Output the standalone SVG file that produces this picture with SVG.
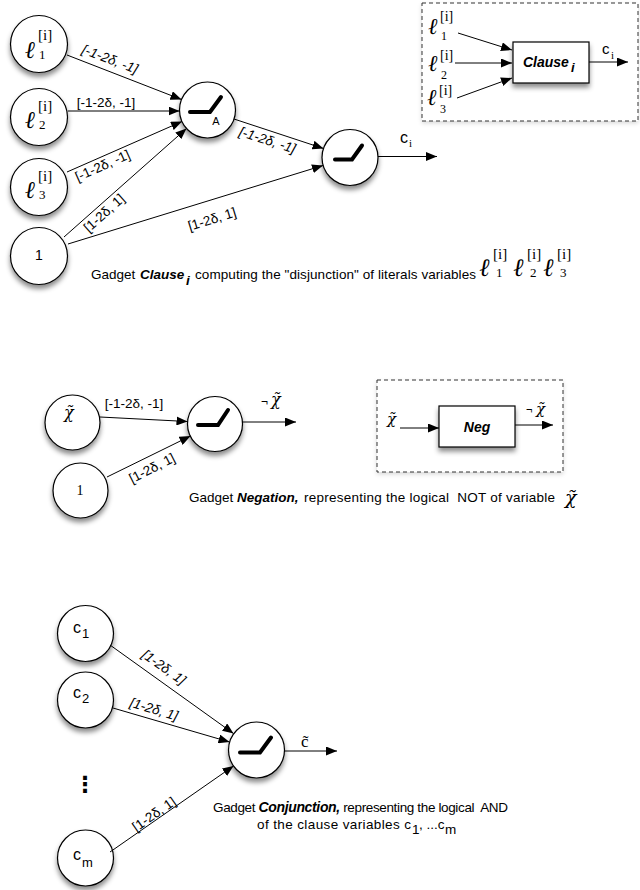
<svg xmlns="http://www.w3.org/2000/svg" width="640" height="890" viewBox="0 0 640 890">
<defs>
  <marker id="arr" markerUnits="userSpaceOnUse" markerWidth="11" markerHeight="9" refX="11" refY="4.5" orient="auto">
    <path d="M0,0 L11,4.5 L0,9 z" fill="#000"/>
  </marker>
  <filter id="sh" x="-30%" y="-30%" width="160%" height="170%">
    <feDropShadow dx="0" dy="4" stdDeviation="2.5" flood-color="#000" flood-opacity="0.45"/>
  </filter>
  <filter id="sh2" x="-10%" y="-10%" width="120%" height="130%">
    <feDropShadow dx="0" dy="2" stdDeviation="2" flood-color="#000" flood-opacity="0.15"/>
  </filter>
</defs>
<style>
  .nd { fill:#fff; stroke:#000; stroke-width:1.2; filter:url(#sh); }
  .bx { fill:#fff; stroke:#000; stroke-width:1.2; filter:url(#sh); }
  .dash { fill:#fff; stroke:#333; stroke-width:1; stroke-dasharray:4,3; filter:url(#sh2); }
  .relu { fill:none; stroke:#000; stroke-width:4; stroke-linecap:round; stroke-linejoin:miter; }
  .e { fill:none; stroke:#000; stroke-width:1; marker-end:url(#arr); }
  .lb { font-family:"Liberation Sans", Arial, sans-serif; font-size:13.5px; fill:#000; text-anchor:middle; }
  .it { font-style:italic; }
  .sans { font-family:"Liberation Sans", Arial, sans-serif; fill:#000; }
  .ser { font-family:"Liberation Serif", "Times New Roman", serif; fill:#000; }
  .ell { font-family:"DejaVu Serif", serif; font-style:italic; fill:#000; }
  .chi { font-family:"DejaVu Serif", serif; font-style:italic; fill:#000; }
  .cap { font-family:"Liberation Sans", Arial, sans-serif; font-size:13.5px; fill:#000; white-space:pre; }
  .bi { font-weight:bold; font-style:italic; }
</style>

<!-- ===== Clause gadget ===== -->
<g id="l1">
  <circle class="nd" cx="39" cy="44" r="28.5"/>
  <text class="ell" x="25" y="58" font-size="24">ℓ<tspan class="ser" font-style="normal" x="38" y="40" font-size="15">[i]</tspan><tspan class="ser" font-style="normal" x="39" y="59" font-size="13">1</tspan></text>
</g>
<g id="l2">
  <circle class="nd" cx="39" cy="117" r="28.5"/>
  <text class="ell" x="25" y="128" font-size="24">ℓ<tspan class="ser" font-style="normal" x="38" y="111" font-size="15">[i]</tspan><tspan class="ser" font-style="normal" x="39" y="129" font-size="13">2</tspan></text>
</g>
<g id="l3">
  <circle class="nd" cx="39" cy="187" r="28.5"/>
  <text class="ell" x="25" y="198" font-size="24">ℓ<tspan class="ser" font-style="normal" x="38" y="181" font-size="15">[i]</tspan><tspan class="ser" font-style="normal" x="39" y="199" font-size="13">3</tspan></text>
</g>
<g id="one1">
  <circle class="nd" cx="39" cy="256" r="28.5"/>
  <text class="sans" x="39" y="260" font-size="14" text-anchor="middle">1</text>
</g>
<g id="reluA">
  <circle class="nd" cx="207.5" cy="110" r="28"/>
  <path class="relu" d="M190,112 L210,112 L221,97"/>
  <text class="sans" x="216" y="125" font-size="11" text-anchor="middle">A</text>
</g>
<g id="reluB">
  <circle class="nd" cx="350" cy="157.5" r="28"/>
  <path class="relu" d="M335,159.5 L352,159.5 L362,145.5"/>
</g>
<g id="clauseInset">
  <rect class="dash" x="422" y="3" width="216" height="118"/>
  <rect class="bx" x="513" y="42" width="76" height="41"/>
  <text class="sans bi" x="523" y="67" font-size="14">Clause<tspan x="571" y="72" font-size="13">i</tspan></text>
  <text class="ell" x="428" y="34" font-size="23">ℓ<tspan class="ser" font-style="normal" x="440" y="21" font-size="14">[i]</tspan><tspan class="ser" font-style="normal" x="441" y="40" font-size="12">1</tspan></text>
  <text class="ell" x="428" y="71" font-size="23">ℓ<tspan class="ser" font-style="normal" x="440" y="60" font-size="14">[i]</tspan><tspan class="ser" font-style="normal" x="441" y="79" font-size="12">2</tspan></text>
  <text class="ell" x="427" y="105" font-size="23">ℓ<tspan class="ser" font-style="normal" x="439" y="95" font-size="14">[i]</tspan><tspan class="ser" font-style="normal" x="440" y="113" font-size="12">3</tspan></text>
  <text class="sans" x="602" y="54" font-size="15">c<tspan class="ser" x="611" y="59" font-size="11">i</tspan></text>
</g>
<g id="clauseOut">
  <text class="sans" x="400" y="143" font-size="16">c<tspan class="ser" x="409" y="147" font-size="11">i</tspan></text>
</g>
<g id="clauseCaption">
  <text class="cap" x="91" y="279" font-size="13">Gadget </text>
  <text class="cap bi" x="140" y="279" font-size="14">Clause<tspan x="186" y="285">i</tspan></text>
  <text class="cap" x="195" y="279" textLength="281" lengthAdjust="spacing">computing the "disjunction" of literals variables</text>
  <text class="ell" x="479" y="276" font-size="25">ℓ<tspan class="ser" font-style="normal" x="493" y="259" font-size="15">[i]</tspan><tspan class="ser" font-style="normal" x="496" y="277" font-size="13">1</tspan></text>
  <text class="ell" x="513" y="276" font-size="25">ℓ<tspan class="ser" font-style="normal" x="527" y="259" font-size="15">[i]</tspan><tspan class="ser" font-style="normal" x="530" y="277" font-size="13">2</tspan></text>
  <text class="ell" x="543" y="276" font-size="25">ℓ<tspan class="ser" font-style="normal" x="557" y="259" font-size="15">[i]</tspan><tspan class="ser" font-style="normal" x="560" y="277" font-size="13">3</tspan></text>
</g>

<!-- ===== Negation gadget ===== -->
<g id="chiNode">
  <circle class="nd" cx="72.5" cy="422.5" r="27.5"/>
  <text class="chi" x="64" y="418" font-size="16">χ̃</text>
</g>
<g id="one2">
  <circle class="nd" cx="80.5" cy="490.5" r="27.5"/>
  <text class="ser" x="80" y="495" font-size="14" text-anchor="middle">1</text>
</g>
<g id="reluN">
  <circle class="nd" cx="215" cy="424" r="27.5"/>
  <path class="relu" d="M198,425 L218,425 L228,410"/>
</g>
<g id="negOut">
  <text class="sans" x="261" y="406" font-size="12">¬<tspan class="chi" x="271" y="405" font-size="16">χ̃</tspan></text>
</g>
<g id="negInset">
  <rect class="dash" x="377" y="380" width="186" height="92"/>
  <rect class="bx" x="439" y="406" width="76" height="41"/>
  <text class="sans bi" x="477" y="432" font-size="14" text-anchor="middle">Neg</text>
  <text class="chi" x="387" y="424" font-size="15">χ̃</text>
  <text class="sans" x="526" y="413" font-size="11">¬<tspan class="chi" x="536" y="414" font-size="15">χ̃</tspan></text>
</g>
<g id="negCaption">
  <text class="cap" x="189" y="502" font-size="13">Gadget </text>
  <text class="cap bi" x="237" y="502" font-size="14">Negation,</text>
  <text class="cap" x="304" y="502" textLength="251" lengthAdjust="spacing">representing the logical  NOT of variable</text>
  <text class="chi" x="565" y="504" font-size="19">χ̃</text>
</g>

<!-- ===== Conjunction gadget ===== -->
<g id="c1">
  <circle class="nd" cx="85.5" cy="633.5" r="28"/>
  <text class="sans" x="73" y="633" font-size="16">c<tspan x="82" y="638" font-size="13">1</tspan></text>
</g>
<g id="c2">
  <circle class="nd" cx="85.5" cy="700" r="28"/>
  <text class="sans" x="73" y="698" font-size="16">c<tspan x="82" y="703" font-size="13">2</tspan></text>
</g>
<g id="dots">
  <text x="85" y="792" font-family="DejaVu Sans, sans-serif" font-weight="bold" font-size="22" text-anchor="middle">⋮</text>
</g>
<g id="cm">
  <circle class="nd" cx="85.5" cy="858" r="28"/>
  <text class="sans" x="73" y="860" font-size="16">c<tspan x="82" y="867" font-size="13">m</tspan></text>
</g>
<g id="reluC">
  <circle class="nd" cx="256.5" cy="750" r="28"/>
  <path class="relu" d="M240,752.5 L260,752.5 L271,737.5"/>
</g>
<g id="conjOut">
  <text class="ser" x="301" y="747" font-size="17">c̃</text>
</g>
<g id="conjCaption">
  <text class="cap" x="213" y="812" textLength="295" lengthAdjust="spacing">Gadget <tspan class="bi" font-size="14">Conjunction,</tspan> representing the logical  AND</text>
  <text class="cap" x="257" y="829" textLength="154" lengthAdjust="spacing">of the clause variables c</text>
  <text class="cap" x="412" y="834" font-size="11">1</text>
  <text class="cap" x="419" y="829">, ...c</text>
  <text class="cap" x="445" y="834" font-size="11">m</text>
</g>

<!-- ===== Connectors ===== -->
<g id="connectors">
  <line class="e" x1="67" y1="55" x2="181.5" y2="99.5"/>
  <line class="e" x1="68" y1="111" x2="179.5" y2="111"/>
  <line class="e" x1="67" y1="172" x2="182" y2="121.5"/>
  <line class="e" x1="64" y1="237" x2="186.5" y2="128.5"/>
  <line class="e" x1="68" y1="244" x2="323" y2="165.5"/>
  <line class="e" x1="234" y1="119" x2="323.5" y2="148.5"/>
  <line class="e" x1="378" y1="156.5" x2="437" y2="156.5"/>
  <line class="e" x1="458" y1="33" x2="512" y2="50"/>
  <line class="e" x1="455" y1="63" x2="512" y2="63"/>
  <line class="e" x1="457" y1="98" x2="512" y2="78"/>
  <line class="e" x1="589" y1="62" x2="628" y2="62"/>

  <line class="e" x1="100" y1="417" x2="187.5" y2="421.5"/>
  <line class="e" x1="107" y1="477" x2="190.5" y2="436"/>
  <line class="e" x1="242.5" y1="422" x2="296" y2="422"/>
  <line class="e" x1="400" y1="428" x2="439" y2="428"/>
  <line class="e" x1="515" y1="425" x2="553" y2="425"/>

  <line class="e" x1="110" y1="645" x2="233.5" y2="733.5"/>
  <line class="e" x1="113" y1="708" x2="229.5" y2="742"/>
  <line class="e" x1="110" y1="852" x2="233.5" y2="766"/>
  <line class="e" x1="284.5" y1="751" x2="337" y2="751"/>

  <!-- edge labels -->
  <text class="lb it" x="110" y="59" dy="0.35em" transform="rotate(20.8 110 59)">[-1-2δ, -1]</text>
  <text class="lb" x="106" y="102.5" dy="0.35em">[-1-2δ, -1]</text>
  <text class="lb" x="102.5" y="165.5" dy="0.35em" transform="rotate(-24 102.5 165.5)">[-1-2δ, -1]</text>
  <text class="lb" x="104" y="213" dy="0.35em" transform="rotate(-41.7 104 213)">[1-2δ, 1]</text>
  <text class="lb" x="212" y="219" dy="0.35em" transform="rotate(-17 212 219)">[1-2δ, 1]</text>
  <text class="lb it" x="267.5" y="140" dy="0.35em" transform="rotate(17.8 267.5 140)">[-1-2δ, -1]</text>

  <text class="lb" x="134" y="403" dy="0.35em">[-1-2δ, -1]</text>
  <text class="lb" x="152" y="468" dy="0.35em" transform="rotate(-27 152 468)">[1-2δ, 1]</text>

  <text class="lb it" x="164" y="667" dy="0.35em" transform="rotate(35.3 164 667)">[1-2δ, 1]</text>
  <text class="lb it" x="154" y="709" dy="0.35em" transform="rotate(16.7 154 709)">[1-2δ, 1]</text>
  <text class="lb" x="154" y="814" dy="0.35em" transform="rotate(-34.8 154 814)">[1-2δ, 1]</text>
</g>
</svg>
